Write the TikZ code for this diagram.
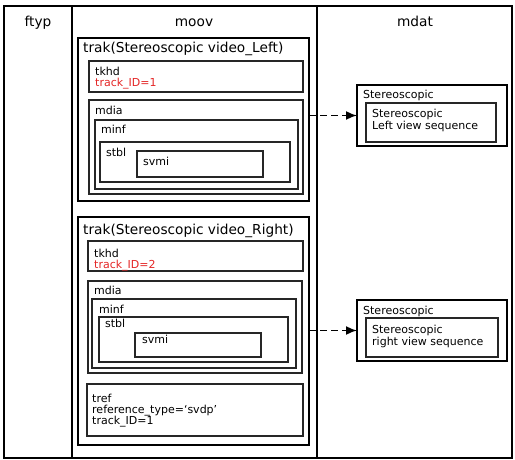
\documentclass[tikz,border=0pt]{standalone}
\usepackage{fontspec}
\setmainfont{DejaVu Sans}
\usetikzlibrary{arrows.meta}
\definecolor{idred}{RGB}{228,38,38}
\tikzset{
  box/.style={draw=black!85, line width=1.1pt, inner sep=0pt, outer sep=0pt, anchor=north west},
  thickbox/.style={box, draw=black, line width=1.9pt},
  tag/.style={inner sep=0pt, anchor=base west, font=\fontsize{11}{11}\selectfont},
  head/.style={inner sep=0pt, anchor=base west, font=\fontsize{13.7}{14}\selectfont},
  link/.style={line width=1.6pt, dash pattern=on 7pt off 4pt, -{Latex[length=11pt,width=9pt]}}
}
\begin{document}
\begin{tikzpicture}[x=1pt, y=-1pt]
            \useasboundingbox (0,0) rectangle (515,460);
            % Draw the three columns
            \node[thickbox, minimum width=68pt, minimum height=452pt] (ftyp) at (4,6) {};
            \node[thickbox, minimum width=245pt, minimum height=452pt] (moov) at (72,6) {};
            \node[thickbox, minimum width=195pt, minimum height=452pt] (mdat) at (317,6) {};
            \node[head, anchor=base] (ftypt) at (38,27) {ftyp};
            \node[head, anchor=base] (moovt) at (194,27) {moov};
            \node[head, anchor=base] (mdatt) at (415,27) {mdat};
            % Left view track
            \node[thickbox, minimum width=231pt, minimum height=163pt] (trakL) at (78,38) {};
            \node[head] (trakLt) at (83,53) {trak(Stereoscopic video\_Left)};
            \node[box, minimum width=214pt, minimum height=31pt] (tkhdL) at (89,61) {};
            \node[tag] (tkhdLt) at (95,76) {tkhd};
            \node[tag, text=idred] (idL) at (95,87) {track\_ID=1};
            \node[box, minimum width=214pt, minimum height=94pt] (mdiaL) at (89,100) {};
            \node[tag] (mdiaLt) at (95,114) {mdia};
            \node[box, minimum width=203pt, minimum height=69pt] (minfL) at (95,120) {};
            \node[tag] (minfLt) at (101,134) {minf};
            \node[box, minimum width=190pt, minimum height=40pt] (stblL) at (100,142) {};
            \node[tag] (stblLt) at (106,157) {stbl};
            \node[box, minimum width=126pt, minimum height=26pt] (svmiL) at (137,151) {};
            \node[tag] (svmiLt) at (143,166) {svmi};
            % Right view track
            \node[thickbox, minimum width=231pt, minimum height=228pt] (trakR) at (78,217) {};
            \node[head] (trakRt) at (83,234) {trak(Stereoscopic video\_Right)};
            \node[box, minimum width=215pt, minimum height=30pt] (tkhdR) at (88,241) {};
            \node[tag] (tkhdRt) at (94,257) {tkhd};
            \node[tag, text=idred] (idR) at (94,268) {track\_ID=2};
            \node[box, minimum width=214pt, minimum height=92pt] (mdiaR) at (88,281) {};
            \node[tag] (mdiaRt) at (94,294) {mdia};
            \node[box, minimum width=204pt, minimum height=69pt] (minfR) at (92,299) {};
            \node[tag] (minfRt) at (99,313) {minf};
            \node[box, minimum width=189pt, minimum height=45pt] (stblR) at (99,317) {};
            \node[tag] (stblRt) at (105,327) {stbl};
            \node[box, minimum width=126pt, minimum height=24pt] (svmiR) at (135,333) {};
            \node[tag] (svmiRt) at (142,343) {svmi};
            \node[box, minimum width=216pt, minimum height=52pt] (tref) at (87,384) {};
            \node[tag] (treft) at (92,402) {tref};
            \node[tag] (reftype) at (92,413) {reference\_type=`svdp'};
            \node[tag] (refid) at (92,424) {track\_ID=1};
            % Media data boxes
            \node[thickbox, minimum width=150pt, minimum height=61pt] (stereoL) at (357,85) {};
            \node[tag] (stereoLt) at (363,99) {Stereoscopic};
            \node[box, minimum width=130pt, minimum height=39pt] (seqL) at (366,103) {};
            \node[tag] (seqLa) at (372,118) {Stereoscopic};
            \node[tag] (seqLb) at (372,130) {Left view sequence};
            \node[thickbox, minimum width=150pt, minimum height=61pt] (stereoR) at (357,300) {};
            \node[tag] (stereoRt) at (363,314) {Stereoscopic};
            \node[box, minimum width=132pt, minimum height=39pt] (seqR) at (366,318) {};
            \node[tag] (seqRa) at (372,333) {Stereoscopic};
            \node[tag] (seqRb) at (372,345) {right view sequence};
            % Links from tracks to data
            \draw[link] (trakL.east |- stereoL.west) -- (stereoL.west);
            \draw[link] (trakR.east |- stereoR.west) -- (stereoR.west);
        \end{tikzpicture}
\end{document}
